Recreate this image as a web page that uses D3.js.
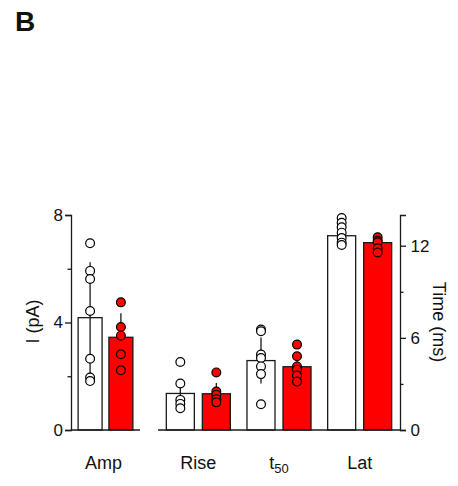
<html>
<style>
  body { margin: 0; background: #fff; }
  text { font-family: Arial, "Liberation Sans", sans-serif; fill: #111; }
</style>
<body>
<script src="https://cdn.jsdelivr.net/npm/d3@7"></script>
<script>
// data
const groups = ["Amp", "Rise", "t50", "Lat"];
const ctrlMean = [4.18, 2.38, 4.52, 12.65];
const expMean = [3.45, 2.36, 4.12, 12.2];
const ctrlSD = [2.06, 0.6, 1.5, 0.5];
const expSD = [0.89, 0.7, 0.9, 0.3];
const ctrlPts = [
  [6.95, 5.92, 5.62, 4.43, 2.65, 1.95, 1.82],
  [4.43, 3.03, 1.96, 1.70, 1.42],
  [6.54, 6.43, 4.91, 4.69, 4.14, 3.64, 1.68],
  [13.8, 13.5, 13.2, 12.85, 12.5, 12.2, 12.05]
];
const expPts = [
  [4.75, 3.83, 3.51, 2.82, 2.22],
  [3.75, 2.51, 2.29, 2.01, 1.8],
  [5.56, 4.8, 4.14, 3.93, 3.55, 3.16],
  [12.55, 12.33, 12.22, 11.83, 11.56]
];
const leftTicks = [0, 2, 4, 6, 8];
const rightTicks = [0, 3, 6, 9, 12];

const width = 458, height = 486;
const svg = d3.select("body").append("svg")
  .attr("width", width).attr("height", height);

// panel labels
svg.append("text").attr("x", 15).attr("y", 31)
  .style("font-size", "28px").style("font-weight", "bold").text("B");

const yL = d3.scaleLinear().domain([0, 8]).range([430, 215]);
const yR = d3.scaleLinear().domain([0, 14]).range([430, 215]);

// x: left panel holds Amp, right panel holds the time measures
const xL = d3.scaleBand().domain(["Amp"]).range([71, 140]);
const xR = d3.scaleBand().domain(["Rise", "t50", "Lat"]).range([158, 400]);
const sub = d3.scaleBand().domain(["ctrl", "exp"]).paddingInner(0.222).paddingOuter(0.231);

const stroke = "#1a1a1a";

// rows, one per bar
let rows = [];
groups.forEach((g, i) => {
  const left = g === "Amp";
  const xs = left ? xL : xR, y = left ? yL : yR;
  ["ctrl", "exp"].forEach(k => {
    const s = sub.copy().range([xs(g), xs(g) + xs.bandwidth()]);
    rows.push({
      g, k, y,
      x0: s(k), w: s.bandwidth(),
      mean: k === "ctrl" ? ctrlMean[i] : expMean[i],
      sd: k === "ctrl" ? ctrlSD[i] : expSD[i],
      pts: k === "ctrl" ? ctrlPts[i] : expPts[i]
    });
  });
});

const plot = svg.append("g");

// whiskers first so the red bars cover the lower half
plot.selectAll(".err").data(rows).join("line")
  .attr("x1", d => d.x0 + d.w / 2).attr("x2", d => d.x0 + d.w / 2)
  .attr("y1", d => d.y(d.mean + d.sd)).attr("y2", d => d.y(Math.max(0, d.mean - d.sd)))
  .attr("stroke", stroke).attr("stroke-width", 1.3);

plot.selectAll(".bar").data(rows).join("rect")
  .attr("x", d => d.x0).attr("width", d => d.w)
  .attr("y", d => d.y(d.mean)).attr("height", d => d.y(0) - d.y(d.mean))
  .attr("fill", d => d.k === "ctrl" ? "none" : "#ff0000")
  .attr("stroke", stroke).attr("stroke-width", 1.3);

// individual cells
rows.forEach(r => {
  plot.selectAll(null).data(r.pts).join("circle")
    .attr("cx", r.x0 + r.w / 2).attr("cy", v => r.y(v)).attr("r", 4.4)
    .attr("fill", r.k === "ctrl" ? "#fff" : "#ff0000")
    .attr("stroke", "#000").attr("stroke-width", 1.2);
});

// baselines
[xL, xR].forEach(xs => {
  svg.append("line")
    .attr("x1", xs.range()[0]).attr("x2", xs.range()[1])
    .attr("y1", 430).attr("y2", 430)
    .attr("stroke", stroke).attr("stroke-width", 1.3);
});

// axes
function styleAxis(g, major) {
  g.select(".domain").attr("stroke", stroke).attr("stroke-width", 1.3);
  g.selectAll(".tick line").attr("stroke", stroke).attr("stroke-width", 1.3);
  g.selectAll(".tick text").style("font-size", "17px").attr("fill", "#111");
}

const axL = svg.append("g").attr("transform", "translate(71,0)")
  .call(d3.axisLeft(yL).tickValues(leftTicks).tickSizeOuter(0).tickSize(6).tickPadding(2)
    .tickFormat(d => d % 4 === 0 ? d : ""));
styleAxis(axL);
axL.selectAll(".tick line").filter(d => d % 4 !== 0).attr("x2", -3.5);

const axR = svg.append("g").attr("transform", "translate(400,0)")
  .call(d3.axisRight(yR).tickValues(rightTicks).tickSizeOuter(0).tickSize(6).tickPadding(4.5)
    .tickFormat(d => d % 6 === 0 ? d : ""));
styleAxis(axR);
axR.selectAll(".tick line").filter(d => d % 6 !== 0).attr("x2", 3.5);

// axis titles
svg.append("text").attr("transform", "translate(39,321.5) rotate(-90)")
  .attr("text-anchor", "middle").style("font-size", "18px").text("I (pA)");
svg.append("text").attr("transform", "translate(433,322) rotate(90)")
  .attr("text-anchor", "middle").style("font-size", "18px").text("Time (ms)");

// category labels
const catX = g => g === "Amp" ? xL(g) + xL.bandwidth() / 2 : xR(g) + xR.bandwidth() / 2;
groups.forEach(g => {
  const t = svg.append("text").attr("x", catX(g) - (g === "Amp" ? 2 : 0)).attr("y", 469)
    .attr("text-anchor", "middle").style("font-size", "18px");
  if (g === "t50") {
    t.append("tspan").text("t");
    t.append("tspan").attr("dy", 4).style("font-size", "13px").text("50");
  } else {
    t.text(g);
  }
});
</script>
</body>
</html>
